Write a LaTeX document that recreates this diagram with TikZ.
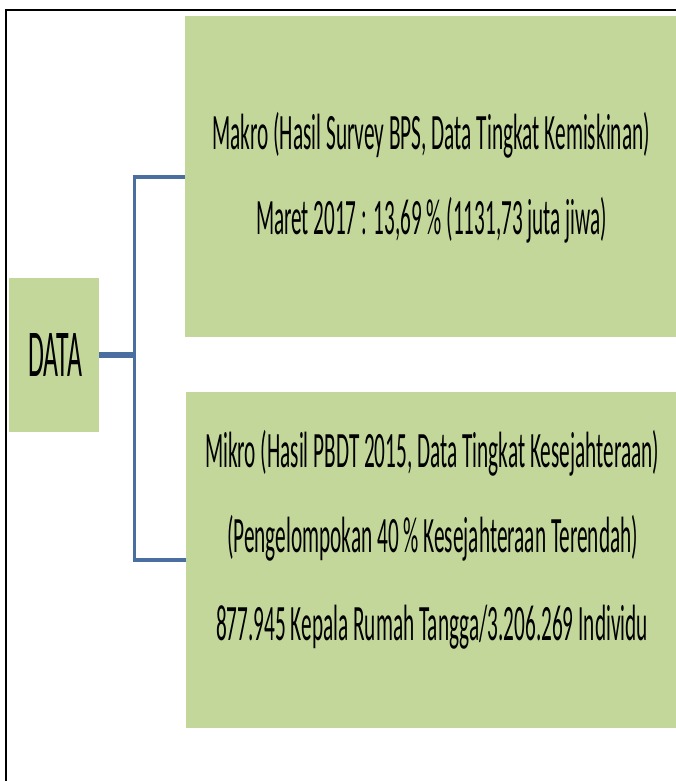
\documentclass[tikz,border=0pt]{standalone}
\usepackage{graphicx}
\usepackage{fontspec}
\setmainfont{Carlito}
\definecolor{boxgreen}{HTML}{C4D79B}
\definecolor{connblue}{HTML}{4A6EA0}
\newcommand{\fitline}[2]{\resizebox{#1pt}{\height}{#2}}
\tikzset{
  greenbox/.style={rectangle, fill=boxgreen, draw=none, inner sep=0pt},
  txt/.style={inner sep=0pt, anchor=base, font=\fontsize{51}{51}\selectfont},
  bigtxt/.style={inner sep=0pt, anchor=base, font=\fontsize{67}{67}\selectfont},
  conn/.style={draw=connblue, line width=4pt},
  spineline/.style={draw=connblue, line width=3pt},
  stubline/.style={draw=connblue, line width=6pt},
  frameline/.style={draw=black, line width=2pt}
}
\begin{document}
\begin{tikzpicture}[x=1pt,y=-1pt]
\useasboundingbox (0,0) rectangle (676,781);
% frame
\coordinate (ftr) at (680,10);
\coordinate (ftl) at (6,10);
\coordinate (fbl) at (6,785);
\draw[frameline] (ftr) -- (ftl) -- (fbl);
% boxes
\node[greenbox, minimum width=491pt, minimum height=321pt] (makro) at (430.5,176.5) {};
\node[greenbox, minimum width=490pt, minimum height=336pt] (mikro) at (431,560) {};
\node[greenbox, minimum width=90pt, minimum height=154pt] (data) at (54,355) {};
% texts
\node[bigtxt] (tdata) at (55,376) {\fitline{54}{DATA}};
\node[txt] (t1) at (431,149) {\fitline{438}{Makro (Hasil Survey BPS, Data Tingkat Kemiskinan)}};
\node[txt] (t2) at (431.5,234) {\fitline{351}{Maret 2017 : 13,69 \% (1131,73 juta jiwa)}};
\node[txt] (t3) at (432,467) {\fitline{454}{Mikro (Hasil PBDT 2015, Data Tingkat Kesejahteraan)}};
\node[txt] (t4) at (432.5,552) {\fitline{411}{(Pengelompokan 40 \% Kesejahteraan Terendah)}};
\node[txt] (t5) at (432,640) {\fitline{432}{877.945 Kepala Rumah Tangga/3.206.269 Individu}};
% connectors
\coordinate (spine) at (134,355);
\draw[stubline] (data.east) -- (spine);
\draw[spineline] (spine |- makro.west) -- (spine |- mikro.west);
\draw[conn] ([xshift=-1.5pt]spine |- makro.west) -- (makro.west);
\draw[conn] ([xshift=-1.5pt]spine |- mikro.west) -- (mikro.west);
\end{tikzpicture}
\end{document}
